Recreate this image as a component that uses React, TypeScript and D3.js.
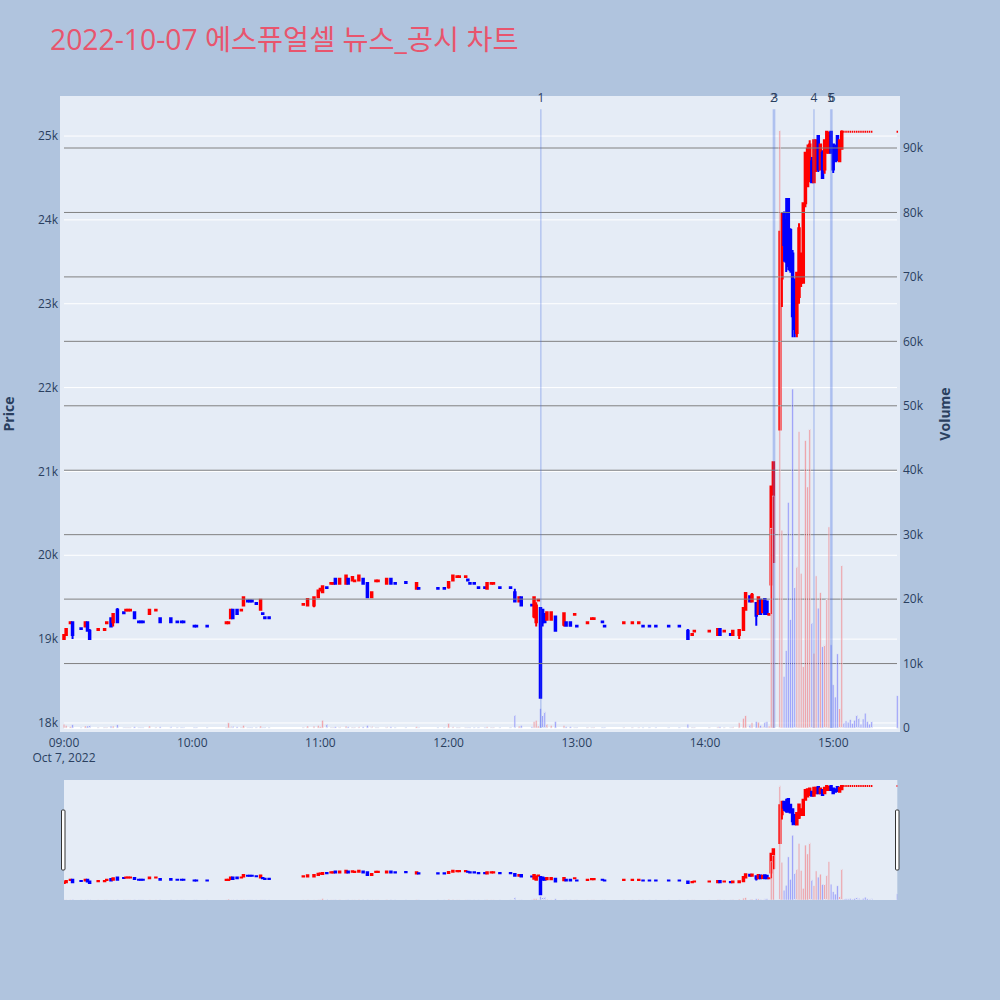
import React from "react";
import * as d3 from "d3";

// ---------- data (1-minute candles, 2022-10-07) ----------
const times = [
  "09:00","09:01","09:03","09:04","09:08","09:10","09:11","09:12","09:16","09:19",
  "09:20","09:22","09:23","09:25","09:28","09:29","09:30","09:31","09:33","09:35",
  "09:36","09:37","09:40","09:43","09:45","09:50","09:53","09:55","09:56","10:01",
  "10:02","10:07","10:16","10:17","10:18","10:19","10:21","10:23","10:24","10:26",
  "10:27","10:28","10:30","10:32","10:33","10:34","10:36","10:52","10:54","10:57",
  "10:59","11:00","11:01","11:03","11:05","11:06","11:07","11:09","11:12","11:13",
  "11:15","11:16","11:18","11:20","11:22","11:24","11:26","11:27","11:31","11:33",
  "11:35","11:40","11:45","11:46","11:55","11:58","12:00","12:02","12:04","12:05",
  "12:08","12:09","12:10","12:12","12:14","12:17","12:18","12:20","12:21","12:24",
  "12:29","12:31","12:33","12:34","12:39","12:40","12:41","12:42","12:43","12:44",
  "12:45","12:46","12:48","12:50","12:54","12:55","12:57","12:59","13:00","13:05",
  "13:07","13:08","13:12","13:13","13:22","13:26","13:29","13:31","13:34","13:37",
  "13:43","13:48","13:52","13:54","13:55","14:02","14:06","14:07","14:09","14:12",
  "14:13","14:16","14:18","14:19","14:21","14:22","14:24","14:25","14:26","14:27",
  "14:28","14:29","14:30","14:31","14:32","14:35","14:36","14:37","14:38","14:39",
  "14:40","14:41","14:42","14:43","14:44","14:45","14:46","14:47","14:48","14:49",
  "14:50","14:51","14:52","14:53","14:54","14:55","14:56","14:57","14:58","14:59",
  "15:00","15:01","15:02","15:03","15:04","15:05","15:06","15:07","15:08","15:09",
  "15:10","15:11","15:12","15:13","15:14","15:15","15:16","15:17","15:18","15:30",
];
const opens = [
  19000,19050,19190,19200,19130,19150,19200,19100,19110,19110,
  19190,19250,19200,19350,19320,19340,19340,19340,19320,19210,
  19210,19210,19300,19340,19250,19250,19210,19210,19210,19160,
  19160,19160,19190,19190,19250,19350,19350,19340,19400,19460,
  19460,19460,19430,19350,19310,19260,19260,19410,19400,19400,
  19500,19580,19560,19620,19660,19660,19720,19660,19660,19720,
  19700,19690,19700,19720,19670,19500,19690,19690,19660,19720,
  19670,19680,19600,19610,19610,19610,19620,19700,19740,19740,
  19740,19710,19670,19670,19620,19620,19600,19660,19660,19620,
  19620,19560,19450,19500,19410,19270,19200,19460,19370,19350,
  19300,19230,19230,19270,19170,19200,19200,19290,19160,19190,
  19240,19240,19210,19160,19190,19190,19190,19160,19160,19160,
  19160,19160,19100,19050,19090,19090,19050,19120,19090,19060,
  19050,19050,19110,19350,19510,19450,19430,19300,19470,19320,
  19480,19450,19290,19650,19920,21500,23300,24080,24000,24250,
  23880,23600,23250,22650,23080,23250,23250,24200,24400,24500,
  24700,24450,24600,25000,24600,24800,24600,24800,24800,25050,
  24900,24850,25000,24700,24850,25050,25050,25050,25050,25050,
  25050,25050,25050,25050,25050,25050,25050,25050,25050,25050,
];
const highs = [
  19050,19120,19200,19200,19130,19200,19200,19120,19120,19120,
  19200,19250,19310,19370,19320,19350,19350,19350,19320,19210,
  19210,19210,19350,19350,19250,19250,19210,19210,19210,19160,
  19160,19160,19200,19200,19350,19350,19350,19350,19510,19460,
  19460,19460,19430,19470,19310,19260,19260,19420,19480,19510,
  19580,19600,19630,19620,19670,19670,19720,19720,19770,19720,
  19740,19700,19760,19720,19670,19560,19700,19700,19720,19720,
  19670,19680,19670,19610,19610,19610,19680,19760,19750,19750,
  19750,19710,19670,19670,19620,19620,19670,19670,19670,19620,
  19620,19600,19500,19500,19410,19500,19440,19470,19370,19360,
  19300,19320,19320,19270,19310,19200,19200,19300,19160,19200,
  19250,19250,19210,19160,19200,19200,19200,19160,19160,19160,
  19160,19160,19120,19060,19100,19100,19120,19120,19100,19060,
  19100,19110,19370,19560,19510,19550,19430,19500,19470,19460,
  19480,19450,19300,20820,21110,23860,24090,24100,24260,24260,
  23900,23640,23300,23370,23960,23600,24200,24810,24900,24950,
  24750,24950,24950,25010,24900,24830,24950,25050,25050,25050,
  24900,24900,25000,24950,25070,25050,25050,25050,25050,25050,
  25050,25050,25050,25050,25050,25050,25050,25050,25050,25050,
];
const lows = [
  18990,19040,19190,19000,19120,19150,19100,19000,19110,19110,
  19190,19150,19150,19200,19310,19340,19340,19340,19250,19200,
  19200,19200,19300,19340,19200,19200,19200,19200,19200,19150,
  19150,19150,19190,19190,19250,19250,19300,19340,19400,19450,
  19450,19450,19420,19350,19300,19250,19250,19410,19400,19380,
  19490,19570,19550,19610,19660,19660,19660,19660,19660,19660,
  19700,19690,19700,19660,19490,19490,19690,19690,19660,19660,
  19660,19670,19600,19600,19600,19600,19600,19700,19740,19740,
  19740,19700,19660,19660,19610,19610,19600,19660,19660,19610,
  19610,19440,19450,19400,19400,19250,19150,19460,18300,19150,
  19200,19230,19230,19090,19150,19150,19150,19290,19150,19190,
  19240,19240,19200,19150,19190,19190,19190,19150,19150,19150,
  19150,19150,19000,19050,19090,19090,19050,19050,19090,19050,
  19050,19000,19110,19350,19440,19450,19160,19300,19300,19320,
  19300,19300,19290,19300,19920,21500,22960,23500,23380,23400,
  23370,22600,22600,22600,23000,23200,23250,24150,24400,24450,
  24440,24450,24570,24570,24600,24500,24550,24800,24800,24800,
  24560,24700,24700,24700,24850,25050,25050,25050,25050,25050,
  25050,25050,25050,25050,25050,25050,25050,25050,25050,25050,
];
const closes = [
  19050,19120,19200,19050,19120,19200,19100,19000,19120,19120,
  19200,19150,19300,19200,19310,19350,19350,19350,19250,19200,
  19200,19200,19350,19350,19200,19200,19200,19200,19200,19150,
  19150,19150,19200,19200,19350,19250,19300,19350,19500,19450,
  19450,19450,19420,19470,19300,19250,19250,19420,19480,19500,
  19580,19600,19630,19610,19670,19670,19660,19720,19760,19660,
  19740,19700,19760,19660,19500,19560,19700,19700,19720,19660,
  19660,19670,19670,19600,19600,19600,19680,19760,19750,19750,
  19750,19700,19660,19660,19610,19610,19670,19670,19670,19610,
  19610,19450,19500,19400,19400,19500,19400,19470,18300,19200,
  19200,19320,19320,19100,19310,19160,19160,19300,19150,19200,
  19250,19250,19200,19150,19200,19200,19200,19150,19150,19150,
  19150,19150,19000,19060,19100,19100,19120,19050,19100,19050,
  19100,19110,19370,19550,19450,19530,19280,19500,19300,19460,
  19300,19300,19300,20820,21110,23860,24080,23700,23500,23450,
  23400,22850,22700,23370,23900,23600,24200,24800,24850,24900,
  24450,24950,24950,24600,24900,24500,24950,25050,25000,24800,
  24600,24700,24750,24950,25050,25050,25050,25050,25050,25050,
  25050,25050,25050,25050,25050,25050,25050,25050,25050,25050,
];
const volumes = [
  600,400,200,500,100,300,300,400,100,100,
  100,300,300,500,100,100,100,100,200,100,
  100,100,300,100,200,200,100,100,100,100,
  100,100,100,800,300,300,200,100,400,100,
  100,100,100,300,100,100,100,100,300,300,
  400,200,1200,600,100,100,200,200,300,200,
  100,100,200,200,400,300,100,100,200,200,
  100,100,200,100,100,100,700,200,100,100,
  100,100,100,100,100,100,200,100,100,100,
  100,2000,300,400,200,1000,1200,300,3000,2000,
  2500,600,400,1000,400,200,200,100,100,100,
  100,100,100,100,100,100,100,100,100,100,
  100,100,600,100,100,100,200,200,100,100,
  200,800,1500,1900,500,800,1000,900,400,300,
  900,1000,300,31000,36000,92700,30700,8000,12000,35000,
  16800,52600,21800,25000,46000,24000,9500,44600,37400,46400,
  16300,11600,23600,18600,21000,12600,12900,20000,31200,12900,
  6700,4800,11500,3000,25200,800,1100,900,1300,700,
  1200,2000,1500,600,1400,2300,1000,600,1000,5000,
];

// news / disclosure markers
const newsTimes = ["12:43:10", "14:32:00", "14:32:35", "14:51:00", "14:58:50", "14:59:25"];
const newsLabels = ["1", "2", "3", "4", "5", "6"];

// axis ticks
const priceTicks = [18000, 19000, 20000, 21000, 22000, 23000, 24000, 25000];
const volumeTicks = [0, 10000, 20000, 30000, 40000, 50000, 60000, 70000, 80000, 90000];
const hourTicks = ["09:00", "10:00", "11:00", "12:00", "13:00", "14:00", "15:00"];

const TITLE = "2022-10-07 에스퓨얼셀 뉴스_공시 차트";
const FONT = "'Open Sans', verdana, arial, sans-serif";
const UP = "#ff0000";
const DOWN = "#0000ff";

function toDate(t: string): Date {
  const [h, m, s] = t.split(":").map(Number);
  return new Date(2022, 9, 7, h, m, s || 0);
}

export default function App() {
  const x = d3.scaleTime().domain([toDate("09:00"), toDate("15:30")]).range([64, 897.3]);
  const yP = d3.scaleLinear().domain([17940, 25430]).range([728, 100]);
  const yV = d3.scaleLinear().domain([0, 97450]).range([728, 100]);
  const yPm = d3.scaleLinear().domain([17940, 25430]).range([900, 780]);
  const yVm = d3.scaleLinear().domain([0, 97450]).range([900, 780]);

  const step = x(toDate("09:01")) - x(toDate("09:00"));
  const bodyW = step * 0.7;
  const barW = step * 0.8;

  // candle direction with plotly-like tie break
  const dirs: boolean[] = [];
  let prevDir = true;
  times.forEach((_, i) => {
    const o = opens[i], c = closes[i];
    let inc: boolean;
    if (c > o) inc = true;
    else if (c < o) inc = false;
    else if (i > 0 && c > closes[i - 1]) inc = true;
    else if (i > 0 && c < closes[i - 1]) inc = false;
    else inc = prevDir;
    dirs.push(inc);
    prevDir = inc;
  });
  const volUp = times.map((_, i) => closes[i] > opens[i]);

  const renderCandles = (yS: d3.ScaleLinear<number, number>, key: string) =>
    times.map((t, i) => {
      const cx = x(toDate(t));
      const col = dirs[i] ? UP : DOWN;
      const yo = yS(opens[i]);
      const yc = yS(closes[i]);
      const top = Math.min(yo, yc);
      const bot = Math.max(yo, yc);
      const x0 = cx - bodyW / 2;
      const x1 = cx + bodyW / 2;
      const d =
        `M${x0},${top}H${x1}V${bot}H${x0}Z` +
        `M${cx},${top}V${yS(highs[i])}M${cx},${bot}V${yS(lows[i])}`;
      return <path key={key + i} d={d} fill={col} stroke={col} strokeWidth={2} />;
    });

  const renderVolumes = (yS: d3.ScaleLinear<number, number>, key: string) =>
    times.map((t, i) => {
      const cx = x(toDate(t));
      const col = volUp[i] ? UP : DOWN;
      const y0 = yS(0);
      const y1 = yS(volumes[i]);
      return (
        <rect
          key={key + i}
          x={cx - barW / 2}
          y={y1}
          width={barW}
          height={Math.max(0, y0 - y1)}
          fill={col}
          fillOpacity={0.3}
          stroke="#E5ECF6"
          strokeWidth={0.5}
        />
      );
    });

  const fmtK = (v: number) => (v === 0 ? "0" : `${v / 1000}k`);

  return (
    <svg
      width={1000}
      height={1000}
      style={{ position: "absolute", left: 0, top: 0, fontFamily: FONT }}
    >
      <defs>
        <clipPath id="mainClip">
          <rect x={60} y={96} width={840} height={636} />
        </clipPath>
        <clipPath id="miniClip">
          <rect x={64} y={780} width={833.3} height={120} />
        </clipPath>
      </defs>
      <rect x={0} y={0} width={1000} height={1000} fill="#b0c4de" />

      {/* title */}
      <text x={50} y={50} fontSize={28.3} fill="#e8556d" fontFamily={`'Open Sans', 'Noto Sans CJK KR', sans-serif`}>
        {TITLE}
      </text>

      {/* main plot background */}
      <rect x={60} y={96} width={840} height={636} fill="#e5ecf6" />

      {/* price grid */}
      {priceTicks.map((p) => (
        <line key={"pg" + p} x1={64} x2={897} y1={yP(p)} y2={yP(p)} stroke="#ffffff" strokeWidth={1} />
      ))}

      <g clipPath="url(#mainClip)">{renderCandles(yP, "c")}</g>

      {/* volume grid */}
      {volumeTicks.filter((v) => v > 0).map((v) => (
        <line key={"vg" + v} x1={64} x2={897} y1={yV(v)} y2={yV(v)} stroke="#808080" strokeWidth={1} />
      ))}
      <line x1={64} x2={897} y1={yV(0)} y2={yV(0)} stroke="#ffffff" strokeWidth={2} />

      <g clipPath="url(#mainClip)">{renderVolumes(yV, "v")}</g>

      {/* news lines */}
      {newsTimes.map((t, i) => {
        const nx = x(toDate(t));
        return (
          <g key={"n" + i}>
            <line x1={nx} x2={nx} y1={yV(96000)} y2={yV(0)} stroke="royalblue" strokeOpacity={0.3} strokeWidth={1.5} />
            <text x={nx} y={101.5} textAnchor="middle" fontSize={12} fill="#2a3f5f">
              {newsLabels[i]}
            </text>
          </g>
        );
      })}

      {/* left price axis */}
      {priceTicks.map((p) => (
        <text key={"pt" + p} x={58} y={yP(p)} dy="0.35em" textAnchor="end" fontSize={12} fill="#2a3f5f">
          {fmtK(p)}
        </text>
      ))}
      {/* right volume axis */}
      {volumeTicks.map((v) => (
        <text key={"vt" + v} x={903} y={yV(v)} dy="0.35em" textAnchor="start" fontSize={12} fill="#2a3f5f">
          {fmtK(v)}
        </text>
      ))}
      {/* x axis */}
      {hourTicks.map((h) => (
        <text key={"xt" + h} x={x(toDate(h))} y={746.5} textAnchor="middle" fontSize={12} fill="#2a3f5f">
          {h}
        </text>
      ))}
      <text x={x(toDate("09:00"))} y={762} textAnchor="middle" fontSize={12} fill="#2a3f5f">
        Oct 7, 2022
      </text>

      {/* axis titles */}
      <text transform="translate(14,414) rotate(-90)" textAnchor="middle" fontSize={14} fontWeight="bold" fill="#2a3f5f">
        Price
      </text>
      <text transform="translate(950,414) rotate(-90)" textAnchor="middle" fontSize={14} fontWeight="bold" fill="#2a3f5f">
        Volume
      </text>

      {/* range slider */}
      <rect x={64} y={780} width={833.3} height={120} fill="#e5ecf6" />
      <g clipPath="url(#miniClip)">
        {renderCandles(yPm, "mc")}
        {renderVolumes(yVm, "mv")}
      </g>
      <rect x={61.5} y={810} width={3.5} height={60} fill="#ffffff" stroke="#333" strokeWidth={1} rx={1} />
      <rect x={895.5} y={810} width={3.5} height={60} fill="#ffffff" stroke="#333" strokeWidth={1} rx={1} />
    </svg>
  );
}
